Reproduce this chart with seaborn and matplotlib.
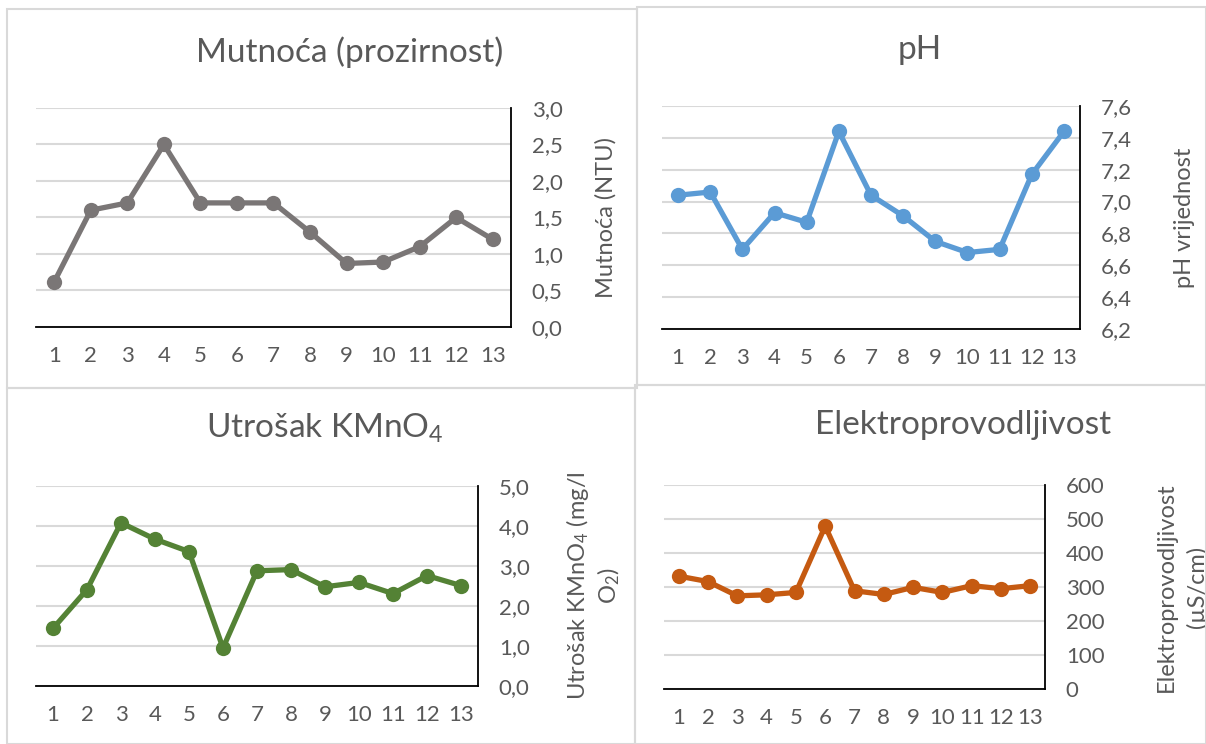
import matplotlib
matplotlib.use("Agg")
import matplotlib.pyplot as plt
import seaborn as sns
import pandas as pd
import numpy as np
from matplotlib.ticker import FuncFormatter, MultipleLocator
from matplotlib.patches import Rectangle

# sample numbers 1..13
uzorak = list(range(1, 14))

mutnoca = [0.62, 1.60, 1.70, 2.50, 1.70, 1.70, 1.70, 1.30, 0.87, 0.89, 1.10, 1.50, 1.20]
ph = [7.04, 7.06, 6.70, 6.93, 6.87, 7.44, 7.04, 6.91, 6.75, 6.68, 6.70, 7.17, 7.44]
kmno4 = [1.44, 2.41, 4.08, 3.67, 3.36, 0.95, 2.88, 2.91, 2.48, 2.59, 2.31, 2.76, 2.51]
ec = [332, 316, 274, 277, 284, 479, 289, 278, 299, 284, 304, 295, 304]

sns.set_style("white")
plt.rcParams["font.family"] = ["Lato", "DejaVu Sans"]
plt.rcParams["mathtext.fontset"] = "custom"
plt.rcParams["mathtext.rm"] = "Lato"
plt.rcParams["mathtext.it"] = "Lato:italic"

W, H = 1206, 744
fig = plt.figure(figsize=(W / 100, H / 100), dpi=100)
txt = "#595959"
grid = "#D9D9D9"

# panel borders
for (l, t, r, b) in [(7, 9, 637, 388), (637, 7, 1206, 385), (7, 388, 635, 744), (635, 385, 1206, 744)]:
    fig.patches.append(Rectangle((l / W, 1 - b / H), (r - l) / W, (b - t) / H,
                                 transform=fig.transFigure, fill=False,
                                 edgecolor=grid, linewidth=1.5))


def px_axes(l, t, r, b):
    return fig.add_axes([l / W, 1 - b / H, (r - l) / W, (b - t) / H])


def comma(v, pos):
    return f"{v:.1f}".replace(".", ",")


panels = [
    dict(box=(36, 108, 511, 327), y=mutnoca, color="#7A7676", lim=(0, 3.0), step=0.5,
         fmt=comma, ylabel="Mutnoća (NTU)", lx=1.2, ls=1.2,
         title="Mutnoća (prozirnost)", tx=350, ty=52),
    dict(box=(662, 106, 1080, 329), y=ph, color="#5B9BD5", lim=(6.2, 7.6), step=0.2,
         fmt=comma, ylabel="pH vrijednost", lx=1.25, ls=1.2,
         title="pH", tx=920, ty=50),
    dict(box=(36, 486, 478, 686), y=kmno4, color="#548235", lim=(0, 5.0), step=1.0,
         fmt=comma, ylabel="Utrošak KMnO$_4$ (mg/l\nO$_2$)", lx=1.26, ls=1.2,
         title="Utrošak KMnO$_4$", tx=325, ty=428),
    dict(box=(664, 485, 1045, 689), y=ec, color="#C55A11", lim=(0, 600), step=100,
         fmt=lambda v, p: f"{v:.0f}", ylabel="Elektroprovodljivost\n(µS/cm)", lx=1.36, ls=1.5,
         title="Elektroprovodljivost", tx=963, ty=425),
]

for p in panels:
    ax = px_axes(*p["box"])
    df = pd.DataFrame({"uzorak": uzorak, "vrijednost": p["y"]})
    sns.lineplot(data=df, x="uzorak", y="vrijednost", ax=ax, color=p["color"],
                 marker="o", markersize=11, markeredgewidth=0, linewidth=3.8)
    ax.set_xlim(0.5, 13.5)
    ax.set_ylim(*p["lim"])
    ax.set_xticks(uzorak)
    ax.yaxis.set_major_locator(MultipleLocator(p["step"]))
    ax.yaxis.set_major_formatter(FuncFormatter(p["fmt"]))
    ax.yaxis.tick_right()
    ax.yaxis.set_label_position("right")
    ax.tick_params(axis="both", length=0, labelsize=16, labelcolor=txt)
    ax.tick_params(axis="y", pad=15)
    ax.tick_params(axis="x", pad=14)
    ax.grid(axis="y", color=grid, linewidth=1.5)
    ax.set_axisbelow(True)
    for s in ["left", "top"]:
        ax.spines[s].set_visible(False)
    for s in ["right", "bottom"]:
        ax.spines[s].set_color("black")
        ax.spines[s].set_linewidth(1.3)
    ax.set_xlabel("")
    ax.set_ylabel(p["ylabel"], fontsize=17, color=txt, ha="center", va="center",
                  multialignment="center", rotation=90, linespacing=p["ls"])
    ax.yaxis.set_label_coords(p["lx"], 0.5)
    fig.text(p["tx"] / W, 1 - p["ty"] / H, p["title"], fontsize=24, color=txt,
             ha="center", va="center")

fig.savefig("out.png", dpi=100)
